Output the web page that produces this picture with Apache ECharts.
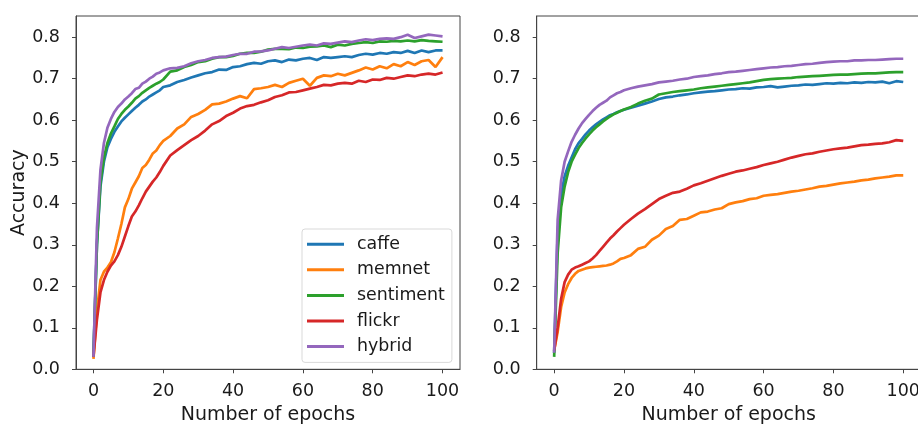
<!DOCTYPE html>
<html>
<head>
<meta charset="utf-8">
<script src="https://cdn.jsdelivr.net/npm/echarts@6/dist/echarts.min.js"></script>
<style>
html,body{margin:0;padding:0;background:#fff;}
#chart{width:918px;height:425px;}
</style>
</head>
<body>
<div id="chart"></div>
<script>
// Epochs (x values) shared by all series
const epochs = [0,1,2,3,4,5,6,7,8,9,10,11,12,13,14,15,16,17,18,19,20,
  22,24,26,28,30,32,34,36,38,40,42,44,46,48,50,52,54,56,58,60,
  62,64,66,68,70,72,74,76,78,80,82,84,86,88,90,92,94,96,98,100];

const seriesNames = ['caffe','memnet','sentiment','flickr','hybrid'];
const xTicks = [0,20,40,60,80,100];
const yTicks = [0,0.1,0.2,0.3,0.4,0.5,0.6,0.7,0.8];

// Left panel
const leftCaffe = [0.04,0.30,0.44,0.50,0.535,0.555,0.572,0.585,0.597,0.606,0.614,0.622,0.630,0.637,0.645,0.650,0.657,0.662,0.667,0.672,0.680,
  0.684,0.692,0.697,0.703,0.708,0.713,0.716,0.722,0.721,0.728,0.730,0.735,0.738,0.736,0.742,0.744,0.740,0.746,0.744,0.748,
  0.750,0.745,0.752,0.750,0.752,0.754,0.752,0.757,0.760,0.758,0.762,0.760,0.764,0.762,0.767,0.762,0.768,0.764,0.768,0.768];
const leftMemnet = [0.025,0.14,0.215,0.235,0.245,0.258,0.282,0.315,0.35,0.39,0.41,0.435,0.45,0.465,0.485,0.492,0.505,0.52,0.527,0.54,0.55,
  0.562,0.58,0.59,0.608,0.615,0.625,0.638,0.64,0.645,0.652,0.658,0.653,0.675,0.677,0.68,0.685,0.68,0.69,0.695,0.70,
  0.683,0.702,0.708,0.706,0.712,0.708,0.714,0.72,0.727,0.722,0.73,0.725,0.735,0.73,0.74,0.733,0.742,0.745,0.728,0.752];
const leftSentiment = [0.03,0.30,0.45,0.51,0.545,0.568,0.585,0.603,0.615,0.625,0.633,0.642,0.652,0.658,0.666,0.672,0.678,0.683,0.688,0.692,0.698,
  0.717,0.72,0.728,0.733,0.74,0.742,0.748,0.752,0.752,0.755,0.76,0.762,0.762,0.765,0.77,0.772,0.772,0.771,0.775,0.774,
  0.777,0.778,0.78,0.776,0.782,0.78,0.784,0.786,0.788,0.786,0.79,0.789,0.791,0.79,0.792,0.79,0.793,0.791,0.79,0.789];
const leftFlickr = [0.03,0.12,0.185,0.215,0.235,0.25,0.26,0.275,0.295,0.32,0.345,0.368,0.38,0.395,0.412,0.428,0.44,0.452,0.462,0.475,0.49,
  0.515,0.528,0.54,0.552,0.562,0.575,0.59,0.598,0.61,0.618,0.628,0.634,0.637,0.643,0.648,0.656,0.66,0.667,0.668,0.672,
  0.676,0.68,0.685,0.684,0.688,0.69,0.688,0.695,0.692,0.698,0.697,0.702,0.70,0.704,0.708,0.706,0.71,0.712,0.71,0.715];
const leftHybrid = [0.03,0.34,0.48,0.545,0.582,0.603,0.62,0.632,0.64,0.65,0.657,0.665,0.675,0.678,0.688,0.693,0.70,0.705,0.712,0.715,0.72,
  0.725,0.726,0.73,0.737,0.742,0.745,0.75,0.752,0.753,0.757,0.76,0.76,0.765,0.766,0.768,0.772,0.776,0.774,0.777,0.78,
  0.782,0.78,0.785,0.784,0.787,0.79,0.788,0.792,0.795,0.793,0.796,0.797,0.796,0.80,0.806,0.798,0.802,0.806,0.804,0.802];

// Right panel
const rightCaffe = [0.04,0.33,0.42,0.465,0.49,0.51,0.53,0.545,0.555,0.566,0.575,0.583,0.59,0.596,0.602,0.607,0.612,0.615,0.619,0.622,0.625,
  0.63,0.635,0.64,0.645,0.651,0.655,0.657,0.66,0.662,0.665,0.667,0.669,0.670,0.672,0.674,0.675,0.677,0.676,0.679,0.680,
  0.682,0.679,0.681,0.683,0.684,0.686,0.685,0.687,0.689,0.688,0.690,0.689,0.691,0.690,0.692,0.691,0.693,0.689,0.694,0.692];
const rightMemnet = [0.045,0.09,0.15,0.185,0.205,0.22,0.23,0.237,0.24,0.243,0.245,0.246,0.247,0.248,0.249,0.25,0.252,0.255,0.26,0.266,0.268,
  0.275,0.29,0.295,0.312,0.322,0.338,0.345,0.36,0.362,0.37,0.378,0.38,0.385,0.388,0.398,0.402,0.405,0.41,0.412,0.418,
  0.42,0.422,0.425,0.428,0.43,0.433,0.436,0.44,0.442,0.445,0.448,0.45,0.452,0.455,0.457,0.46,0.462,0.464,0.467,0.467];
const rightSentiment = [0.03,0.28,0.39,0.44,0.475,0.50,0.517,0.533,0.545,0.556,0.566,0.575,0.583,0.59,0.597,0.603,0.609,0.614,0.618,0.622,0.626,
  0.632,0.64,0.647,0.652,0.662,0.665,0.668,0.670,0.672,0.674,0.677,0.679,0.681,0.683,0.685,0.687,0.689,0.691,0.694,0.697,
  0.699,0.700,0.701,0.702,0.704,0.705,0.706,0.707,0.708,0.709,0.710,0.710,0.711,0.712,0.713,0.713,0.714,0.715,0.716,0.716];
const rightFlickr = [0.045,0.10,0.17,0.21,0.228,0.24,0.245,0.248,0.252,0.256,0.26,0.267,0.275,0.285,0.295,0.305,0.315,0.323,0.332,0.34,0.348,
  0.362,0.375,0.386,0.398,0.41,0.418,0.425,0.428,0.435,0.443,0.448,0.454,0.46,0.466,0.471,0.476,0.479,0.483,0.487,0.492,
  0.496,0.50,0.505,0.51,0.514,0.518,0.52,0.524,0.527,0.53,0.532,0.534,0.537,0.54,0.541,0.543,0.544,0.547,0.552,0.55];
const rightHybrid = [0.04,0.36,0.455,0.50,0.525,0.548,0.565,0.58,0.593,0.603,0.613,0.622,0.63,0.637,0.642,0.647,0.655,0.66,0.665,0.668,0.672,
  0.677,0.681,0.684,0.687,0.691,0.693,0.695,0.698,0.70,0.704,0.706,0.708,0.711,0.713,0.716,0.717,0.719,0.721,0.723,0.725,
  0.727,0.728,0.730,0.731,0.733,0.735,0.736,0.738,0.740,0.741,0.742,0.742,0.744,0.744,0.745,0.745,0.746,0.747,0.748,0.748];

const colors = ['#1f77b4','#ff7f0e','#2ca02c','#d62728','#9467bd'];
const leftData = [leftCaffe,leftMemnet,leftSentiment,leftFlickr,leftHybrid];
const rightData = [rightCaffe,rightMemnet,rightSentiment,rightFlickr,rightHybrid];

const FONT = 'DejaVu Sans';
const TXT = '#1a1a1a';
const FRAME = '#444444';

function pairs(arr){ return arr.map((v,i)=>[epochs[i], v]); }

function xAxisCfg(gi){
  return {
    type:'value', gridIndex:gi, min:-5, max:105,
    name:'Number of epochs', nameLocation:'middle', nameGap:25,
    nameTextStyle:{fontFamily:FONT,fontSize:19,color:TXT},
    axisLine:{show:true,onZero:false,lineStyle:{color:FRAME,width:1}},
    axisTick:{show:true,inside:false,length:4,customValues:xTicks,lineStyle:{color:FRAME,width:1}},
    axisLabel:{show:true,customValues:xTicks,margin:13,fontFamily:FONT,fontSize:17.5,color:TXT},
    splitLine:{show:false}
  };
}
function yAxisCfg(gi, withName){
  return {
    type:'value', gridIndex:gi, min:0, max:0.851,
    name: withName ? 'Accuracy' : '', nameLocation:'middle', nameGap:47,
    nameTextStyle:{fontFamily:FONT,fontSize:19,color:TXT},
    axisLine:{show:true,onZero:false,lineStyle:{color:FRAME,width:1}},
    axisTick:{show:true,inside:false,length:4,customValues:yTicks,lineStyle:{color:FRAME,width:1}},
    axisLabel:{show:true,customValues:yTicks,margin:16,fontFamily:FONT,fontSize:17.5,color:TXT,
      formatter:(v)=>v.toFixed(1)},
    splitLine:{show:false}
  };
}

const series = [];
seriesNames.forEach((n,i)=>{
  series.push({name:n,type:'line',xAxisIndex:0,yAxisIndex:0,data:pairs(leftData[i]),
    showSymbol:false,symbol:'none',smooth:false,animation:false,
    lineStyle:{color:colors[i],width:2.7},itemStyle:{color:colors[i]},z:2});
});
seriesNames.forEach((n,i)=>{
  series.push({name:n,type:'line',xAxisIndex:1,yAxisIndex:1,data:pairs(rightData[i]),
    showSymbol:false,symbol:'none',smooth:false,animation:false,
    lineStyle:{color:colors[i],width:2.7},itemStyle:{color:colors[i]},z:2});
});

const chart = echarts.init(document.getElementById('chart'), null, {renderer:'canvas'});
chart.setOption({
  backgroundColor:'#ffffff',
  animation:false,
  color:colors,
  grid:[
    {left:76,top:16,width:384,height:353.3,show:true,borderColor:FRAME,borderWidth:1,backgroundColor:'transparent',containLabel:false,outerBoundsMode:'none'},
    {left:536.7,top:16,width:384,height:353.3,show:true,borderColor:FRAME,borderWidth:1,backgroundColor:'transparent',containLabel:false,outerBoundsMode:'none'}
  ],
  xAxis:[xAxisCfg(0), xAxisCfg(1)],
  yAxis:[yAxisCfg(0,true), yAxisCfg(1,false)],
  legend:{
    show:true, orient:'vertical', left:302, top:229,
    data:seriesNames, icon:'rect', itemWidth:37, itemHeight:3, itemGap:8.6,
    padding:[6.7,7,7.3,5],
    backgroundColor:'rgba(255,255,255,0.85)', borderColor:'#d9d9d9', borderWidth:1, borderRadius:3,
    textStyle:{fontFamily:FONT,fontSize:17.4,color:TXT,padding:[0,0,0,8]},
    selectedMode:false
  },
  series:series
});
</script>
</body>
</html>
